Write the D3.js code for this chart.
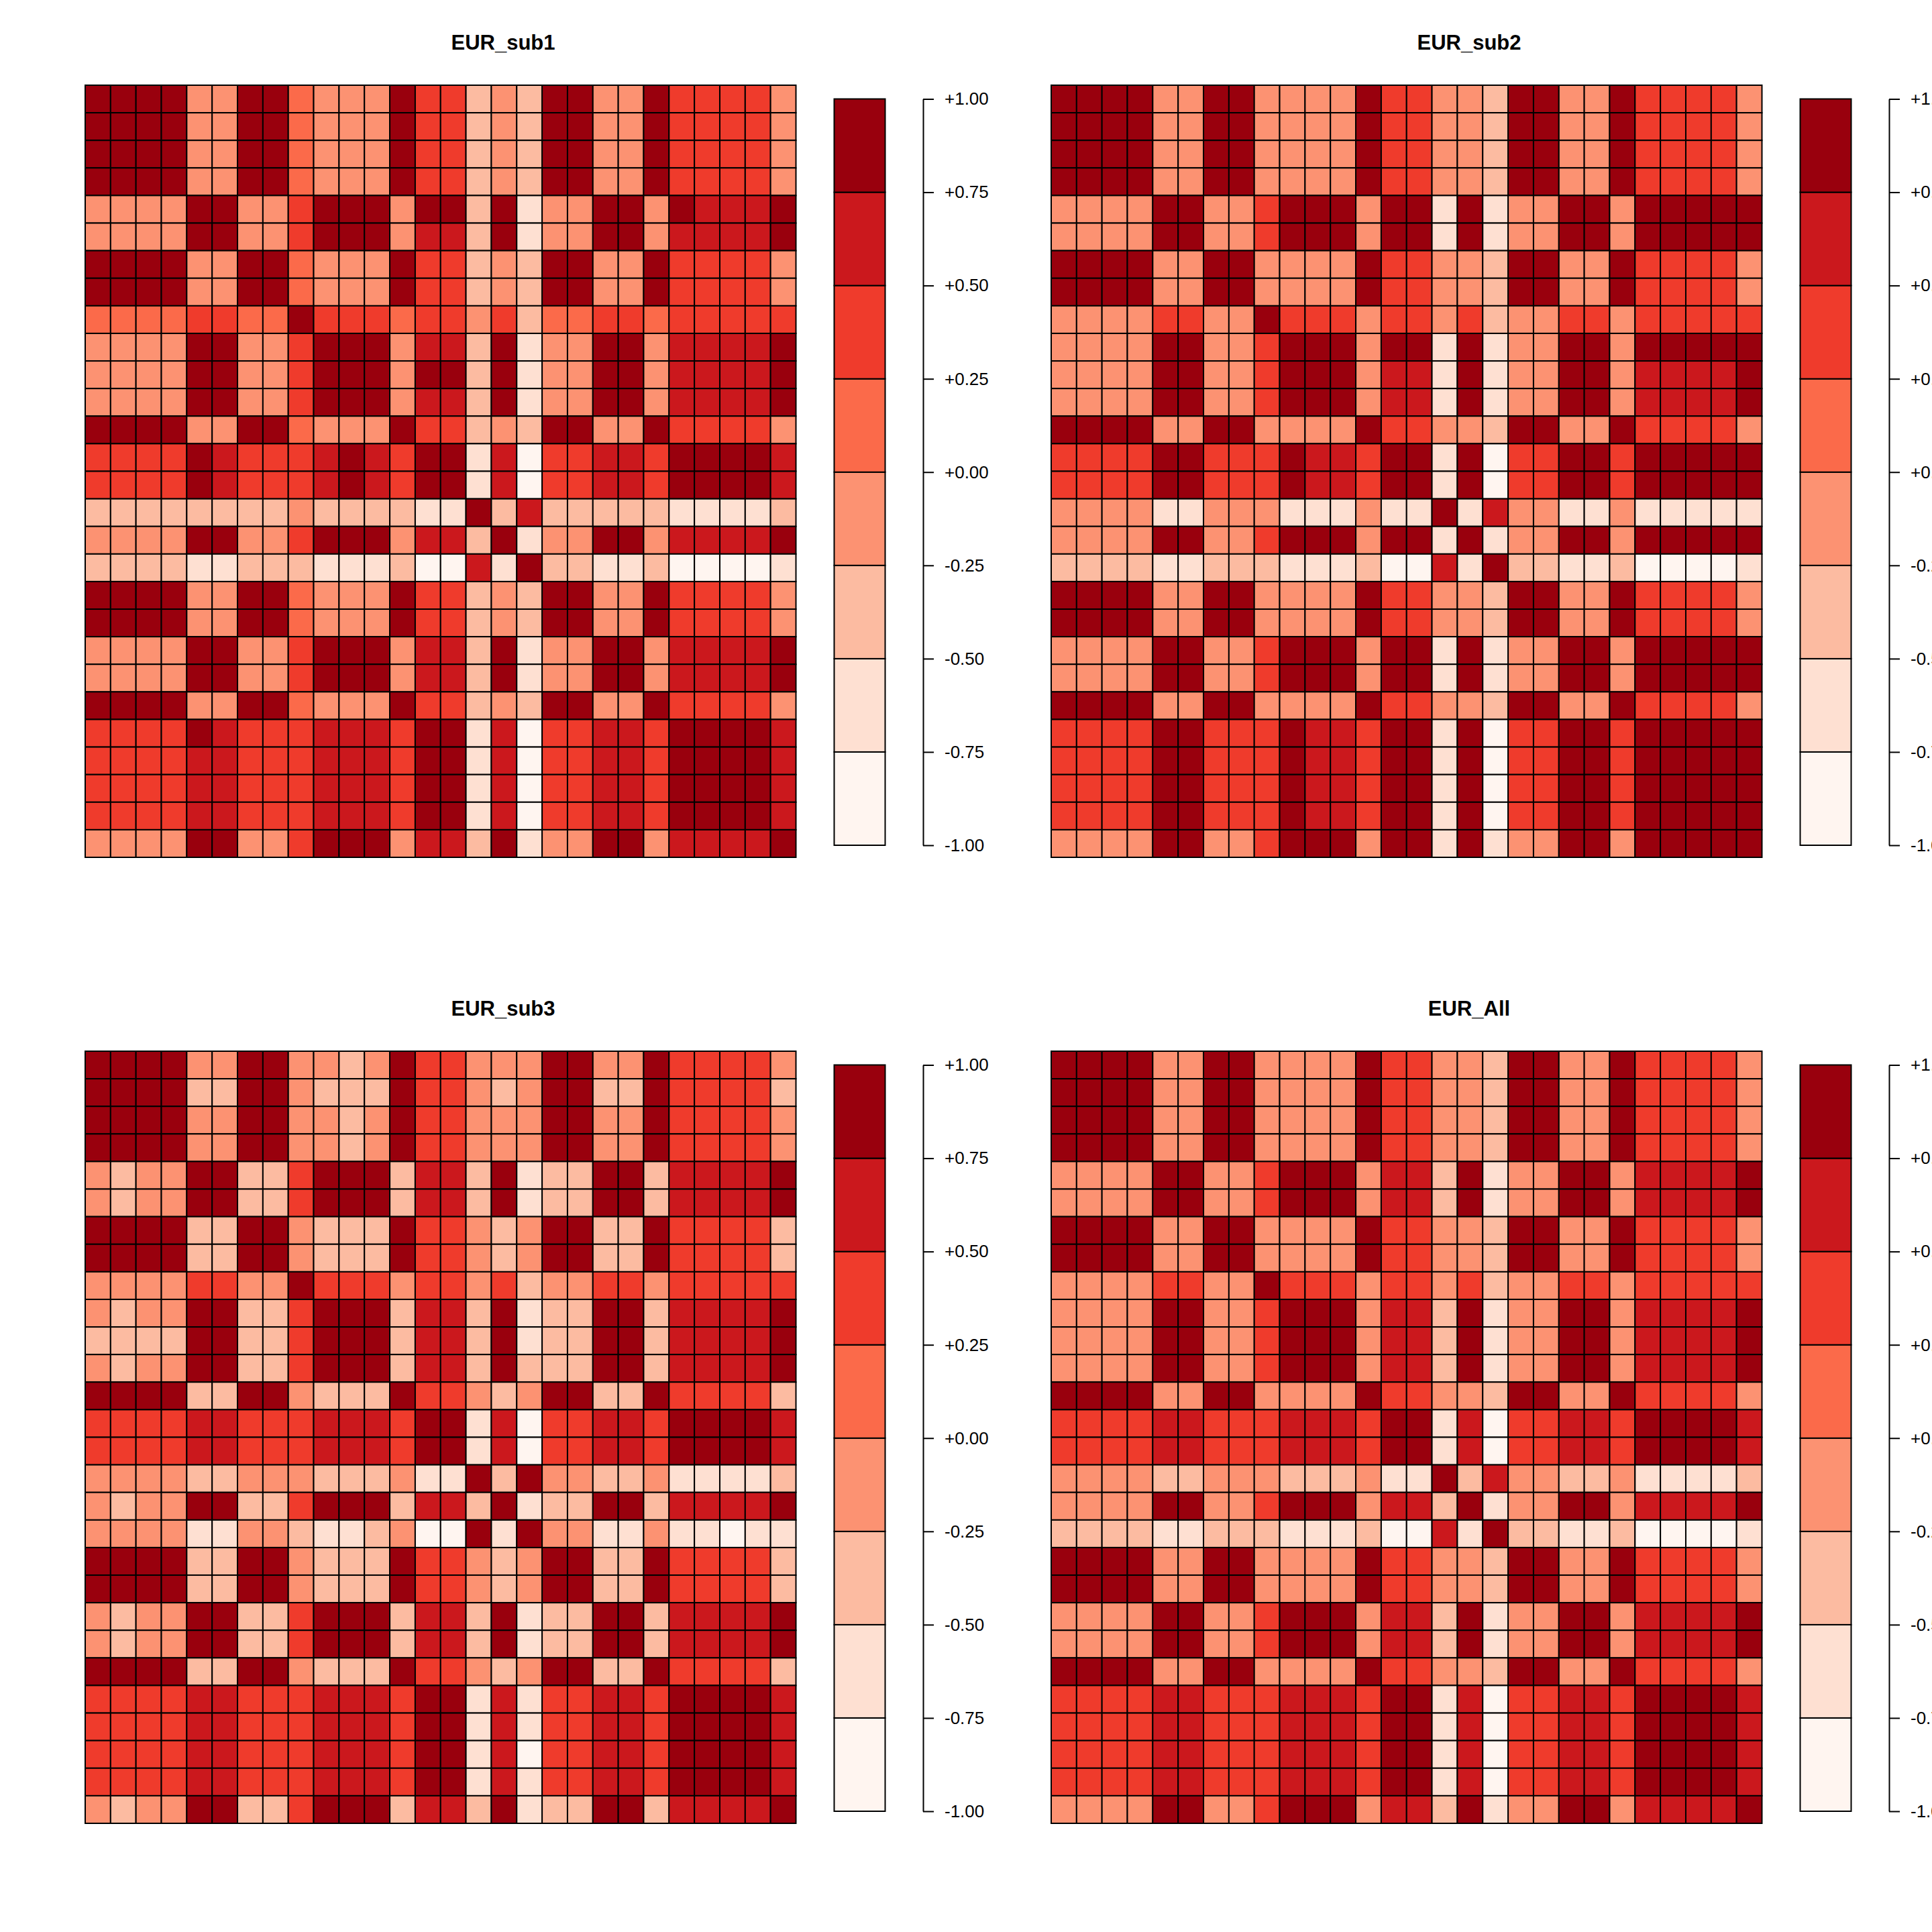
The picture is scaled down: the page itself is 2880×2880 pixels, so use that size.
<!DOCTYPE html>
<html>
<head>
<meta charset="utf-8">
<script src="https://cdn.jsdelivr.net/npm/d3@7"></script>
<style>
  body { margin: 0; background: #fff; }
  svg { display: block; font-family: 'Liberation Sans', Arial, Helvetica, sans-serif; }
</style>
</head>
<body>
<svg id="chart" width="2880" height="2880"></svg>
<script>
// each char is the colour bin of a cell: 0 = [-1,-0.75) ... 7 = [0.75,1]
const titles = ['EUR_sub1', 'EUR_sub2', 'EUR_sub3', 'EUR_All']
const legendTicks = [1, 0.75, 0.5, 0.25, 0, -0.25, -0.5, -0.75, -1]
const palette = ['#fff5f0', '#fee0d2', '#fcbba1', '#fc9272', '#fb6a4a', '#ef3b2c', '#cb181d', '#99000d']

const sub1 = [
    '7777337743337552327733755553',
    '7777337743337552327733755553',
    '7777337743337552327733755553',
    '7777337743337552327733755553',
    '3333773357773772713377376667',
    '3333773357773662713377366667',
    '7777337743337552327733755553',
    '7777337743337552327733755553',
    '4444554475554553524455455555',
    '3333773357773662713377366667',
    '3333773357773772713377366667',
    '3333773357773662713377366667',
    '7777337743337552327733755553',
    '5555765556765771605566577776',
    '5555765556765771605566577776',
    '2222222232222117262222211112',
    '3333773357773662713377366667',
    '2222112221112006172211200001',
    '7777337743337552327733755553',
    '7777337743337552327733755553',
    '3333773357773662713377366667',
    '3333773357773662713377366667',
    '7777337743337552327733755553',
    '5555765556665771605566577776',
    '5555665556665771605566577776',
    '5555665556665771605566577776',
    '5555665556665771605566577776',
    '3333773357773662713377366667'
]

const sub2 = [
    '7777337733337553327733755553',
    '7777337733337553327733755553',
    '7777337733337553327733755553',
    '7777337733337553327733755553',
    '3333773357773771713377377777',
    '3333773357773771713377377777',
    '7777337733337553327733755553',
    '7777337733337553327733755553',
    '3333553375553553523355355555',
    '3333773357773771713377377777',
    '3333773357773661713377366667',
    '3333773357773661713377366667',
    '7777337733337553327733755553',
    '5555775557665771705577577777',
    '5555775557665771705577577777',
    '3333113331113117163311311111',
    '3333773357773771713377377777',
    '2222112221112006172211200001',
    '7777337733337553327733755553',
    '7777337733337553327733755553',
    '3333773357773771713377377777',
    '3333773357773771713377377777',
    '7777337733337553327733755553',
    '5555775557665771705577577777',
    '5555775557665771705577577777',
    '5555775557665771705577577777',
    '5555775557665771705577577777',
    '3333773357773771713377377777'
]

const sub3 = [
    '7777337733237553337733755553',
    '7777227732227553237722755552',
    '7777337733237553337733755553',
    '7777337733237553337733755553',
    '3233772257772662712277266667',
    '3233772257772662712277266667',
    '7777227732227553237722755552',
    '7777227732227553237722755552',
    '3333553375553553523355355555',
    '3233772257772662712277266667',
    '2222772257772662712277266667',
    '3233772257772662722277266667',
    '7777227732227553237722755552',
    '5555665556665771605566577776',
    '5555665556665771605566577776',
    '3333223332223117273322311112',
    '3233772257772662712277266667',
    '3333113321123007173311311011',
    '7777227732227553237722755552',
    '7777227732227553237722755552',
    '3233772257772662712277266667',
    '3233772257772662712277266667',
    '7777227732227553237722755552',
    '5555665556665771615566577776',
    '5555665556665771615566577776',
    '5555665556665771605566577776',
    '5555665556665771615566577776',
    '3233772257772662712277266667'
]

const subAll = [
    '7777337733337553327733755553',
    '7777337733337553327733755553',
    '7777337733337553327733755553',
    '7777337733337553327733755553',
    '3333773357773662713377366667',
    '3333773357773662713377366667',
    '7777337733337553327733755553',
    '7777337733337553327733755553',
    '3333553375553553523355355555',
    '3333773357773662713377366667',
    '3333773357773662713377366667',
    '3333773357773662713377366667',
    '7777337733337553327733755553',
    '5555665556665771605566577776',
    '5555665556665771605566577776',
    '3333223332223117263322311112',
    '3333773357773662713377366667',
    '2222112221112006172211200001',
    '7777337733337553327733755553',
    '7777337733337553327733755553',
    '3333773357773662713377366667',
    '3333773357773662713377366667',
    '7777337733337553327733755553',
    '5555665556665771605566577776',
    '5555665556665771605566577776',
    '5555665556665771605566577776',
    '5555665556665771605566577776',
    '3333773357773662713377366667'
]

const matrices = [sub1, sub2, sub3, subAll]

// bin code -> correlation value at the middle of its bin
const toValue = k => -1 + 0.25 * (+k) + 0.125

const color = d3.scaleQuantize().domain([-1, 1]).range(palette)

const svg = d3.select('#chart')
const panelSize = 1440
const grid = { x: 127, y: 127, w: 1059.5, h: 1151 }
const legend = { x: 1243.5, w: 76, top: 147.5, bottom: 1260, axisX: 1376 }

// plain hyphen for negatives, plus sign for the rest
const fmtTick = d => (d >= 0 ? '+' : '-') + Math.abs(d).toFixed(2)

const drawPanel = (rows, title, i) => {
    let g = svg.append('g')
        .attr('transform', `translate(${(i % 2) * panelSize},${Math.floor(i / 2) * panelSize})`)

    let n = rows.length
    let cells = []
    rows.forEach((r, ri) => r.split('').forEach((k, ci) => cells.push({ row: ri, col: ci, value: toValue(k) })))

    let x = d3.scaleBand().domain(d3.range(n)).range([grid.x, grid.x + grid.w])
    let y = d3.scaleBand().domain(d3.range(n)).range([grid.y, grid.y + grid.h])

    g.append('g').selectAll('rect')
        .data(cells)
        .enter().append('rect')
        .attr('x', d => x(d.col))
        .attr('y', d => y(d.row))
        .attr('width', x.bandwidth())
        .attr('height', y.bandwidth())
        .style('fill', d => color(d.value))
        .style('stroke', '#000')
        .style('stroke-width', 2)

    g.append('text')
        .attr('x', 750)
        .attr('y', 74)
        .attr('text-anchor', 'middle')
        .style('font-weight', 'bold')
        .style('font-size', '31px')
        .text(title)

    // colour key
    let yLeg = d3.scaleLinear().domain([-1, 1]).range([legend.bottom, legend.top])
    let bins = d3.range(palette.length).map(k => ({ lo: -1 + 0.25 * k, hi: -0.75 + 0.25 * k }))

    g.append('g').selectAll('rect')
        .data(bins)
        .enter().append('rect')
        .attr('x', legend.x)
        .attr('y', d => yLeg(d.hi))
        .attr('width', legend.w)
        .attr('height', d => yLeg(d.lo) - yLeg(d.hi))
        .style('fill', d => color((d.lo + d.hi) / 2))
        .style('stroke', '#000')
        .style('stroke-width', 2)

    let axis = d3.axisRight(yLeg)
        .tickValues(legendTicks)
        .tickSize(16)
        .tickSizeOuter(0)
        .tickPadding(16)
        .tickFormat(fmtTick)

    let ax = g.append('g')
        .attr('transform', `translate(${legend.axisX},0)`)
        .call(axis)
    ax.attr('font-size', null).attr('font-family', null)
    ax.selectAll('text').style('font-size', '26px')
    ax.selectAll('line, path').style('stroke-width', 2)
}

matrices.forEach((m, i) => drawPanel(m, titles[i], i))
</script>
</body>
</html>
